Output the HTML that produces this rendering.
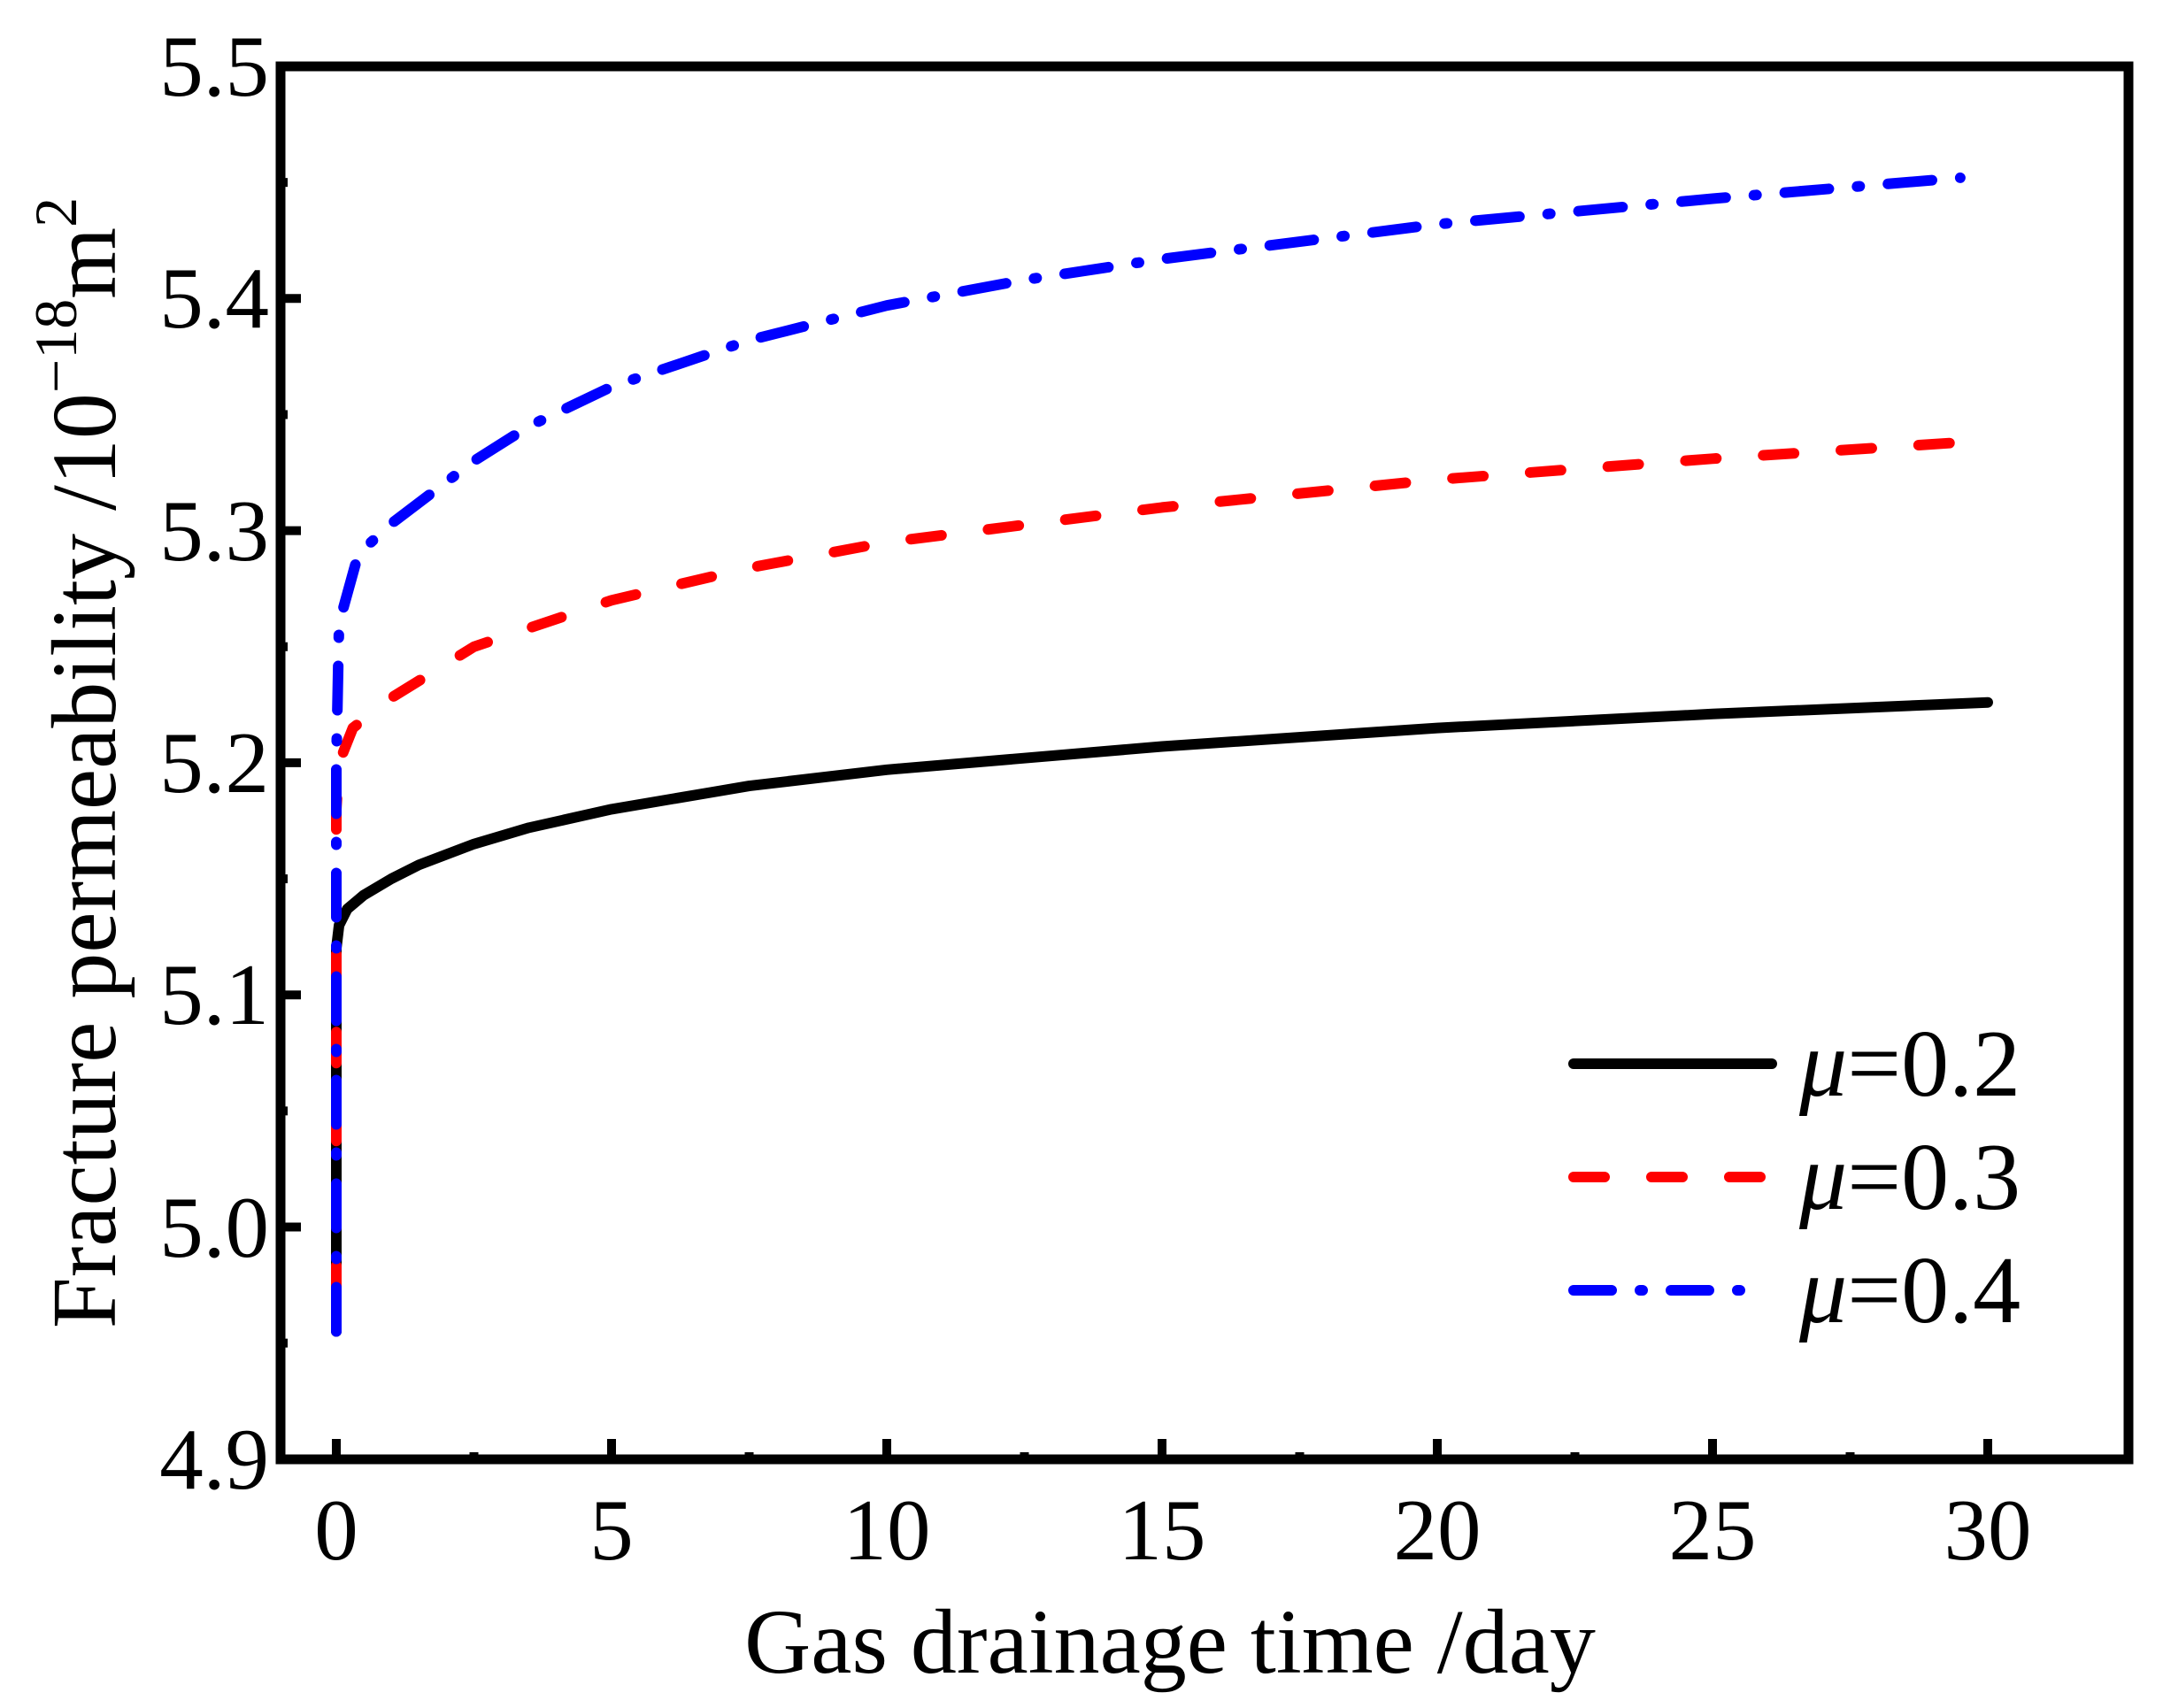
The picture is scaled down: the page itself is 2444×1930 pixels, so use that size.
<!DOCTYPE html>
<html><head><meta charset="utf-8"><style>
html,body{margin:0;padding:0;background:#fff;}
svg{display:block;}
text{font-family:"Liberation Serif",serif;fill:#000;}
</style></head><body>
<svg width="2444" height="1930" viewBox="0 0 2444 1930" xmlns="http://www.w3.org/2000/svg">
<g id="ticks" stroke="#000" stroke-width="10"></g>
<g id="curves" fill="none" stroke-width="12" stroke-linecap="round" stroke-linejoin="round"></g>
<rect x="317" y="75" width="2088" height="1574" fill="none" stroke="#000" stroke-width="11"/>
<g font-size="99" text-anchor="end">
<text x="304" y="108">5.5</text>
<text x="304" y="370">5.4</text>
<text x="304" y="633">5.3</text>
<text x="304" y="895">5.2</text>
<text x="304" y="1157">5.1</text>
<text x="304" y="1420">5.0</text>
<text x="304" y="1682">4.9</text>
</g>
<g font-size="99" text-anchor="middle">
<text x="380" y="1762">0</text>
<text x="691" y="1762">5</text>
<text x="1002" y="1762">10</text>
<text x="1313" y="1762">15</text>
<text x="1624" y="1762">20</text>
<text x="1935" y="1762">25</text>
<text x="2246" y="1762">30</text>
</g>
<text x="1322" y="1890" font-size="104" text-anchor="middle">Gas drainage time /day</text>
<text transform="translate(130,862) rotate(-90)" font-size="104" text-anchor="middle">Fracture permeability /10<tspan font-size="68" dy="-44">−18</tspan><tspan dy="44">m</tspan><tspan font-size="68" dy="-44">2</tspan></text>
<g stroke-width="12" stroke-linecap="round">
<line x1="1778" y1="1202" x2="2002" y2="1202" stroke="#000"/>
<line x1="1778" y1="1330" x2="2002" y2="1330" stroke="#f00" stroke-dasharray="35 53"/>
<line x1="1778" y1="1458" x2="1980" y2="1458" stroke="#00f" stroke-dasharray="43 32 3 32"/>
</g>
<g font-size="108">
<text x="2033" y="1238"><tspan font-style="italic">μ</tspan>=0.2</text>
<text x="2033" y="1366"><tspan font-style="italic">μ</tspan>=0.3</text>
<text x="2033" y="1494"><tspan font-style="italic">μ</tspan>=0.4</text>
</g>
<script>
(function(){
var X=function(t){return 380+62.2*t;},Y=function(v){return 75+(5.5-v)*2623;};
var ns="http://www.w3.org/2000/svg";
var tk=document.getElementById("ticks");
function ln(x1,y1,x2,y2){var l=document.createElementNS(ns,"line");l.setAttribute("x1",x1);l.setAttribute("y1",y1);l.setAttribute("x2",x2);l.setAttribute("y2",y2);tk.appendChild(l);}
for(var i=0;i<=12;i++){var y=75+i*131.15;ln(317,y,317+(i%2?8:23),y);}
for(var i=0;i<=12;i++){var x=380+i*155.5;ln(x,1649,x,1649-(i%2?8:23));}
var data=[
["#000","",[[0,4.955],[0,5.12],[0.05,5.13],[0.2,5.137],[0.5,5.143],[1,5.15],[1.5,5.156],[2.5,5.165],[3.5,5.172],[5,5.18],[7.5,5.19],[10,5.197],[15,5.207],[20,5.215],[25,5.221],[30,5.226]]],
["#f00","35 53",[[0,4.97],[0,5.18],[0.05,5.2],[0.3,5.215],[1,5.228],[2.5,5.25],[5,5.27],[7.5,5.284],[10,5.295],[15,5.31],[20,5.322],[25,5.331],[29.5,5.338]]],
["#00f","50 32 3 32",[[0,4.955],[0,5.2],[0.05,5.26],[0.4,5.29],[1,5.303],[2.5,5.33],[3.5,5.345],[5,5.362],[7.5,5.382],[10,5.397],[12.5,5.408],[15,5.417],[20,5.432],[25,5.443],[29.5,5.452]]]];
var g=document.getElementById("curves");
data.forEach(function(d){var p=document.createElementNS(ns,"polyline");
p.setAttribute("points",d[2].map(function(q){return X(q[0]).toFixed(1)+","+Y(q[1]).toFixed(1);}).join(" "));
p.setAttribute("stroke",d[0]);if(d[1])p.setAttribute("stroke-dasharray",d[1]);g.appendChild(p);});
})();
</script>
</svg>
</body></html>
